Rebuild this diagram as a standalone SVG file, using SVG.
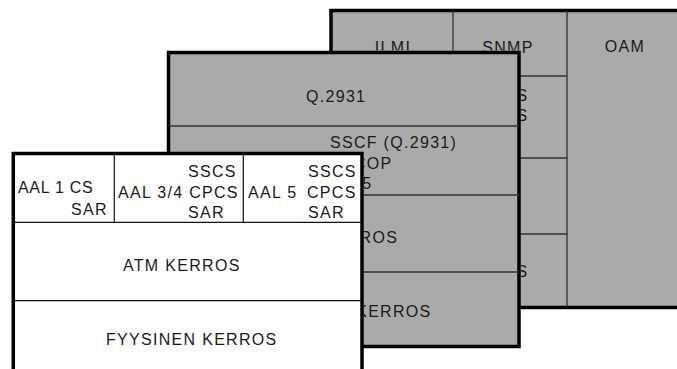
<svg xmlns="http://www.w3.org/2000/svg" width="677" height="369" viewBox="0 0 677 369">
<style>
text{font-family:"Liberation Sans",Arial,sans-serif;font-size:16px;letter-spacing:1.3px;fill:#1a1a1a}
.panel{fill:#aaaaaa;stroke:#000;stroke-width:3.5}
.front{fill:#ffffff;stroke:#000;stroke-width:3.5}
.gl{stroke:#333;stroke-width:1.3;fill:none}
.fl{stroke:#111;stroke-width:1.2;fill:none}
.m{text-anchor:middle}
.t{letter-spacing:0.7px}
</style>
<defs>
<clipPath id="backVis"><path d="M331 8H683V310H521V50.5H331Z"/></clipPath>
<clipPath id="midVis"><path d="M166 50H521V349H364V151.5H166Z"/></clipPath>
</defs>
<g id="management-plane">
<rect class="panel" x="331" y="10.5" width="352" height="297" stroke-width="4"/>
<path class="gl" d="M453 10.5V76M331 76H567M331 158H567M331 234H567M567 10.5V307.5"/>
<g clip-path="url(#backVis)">
<text class="m" x="393" y="52.5">ILMI</text>
<text class="m" x="508" y="52.5">SNMP</text>
<text class="m" x="625" y="52">OAM</text>
<text x="516.5" y="101">S</text>
<text x="516.5" y="121">S</text>
<text x="516.5" y="277">S</text>
</g>
</g>
<g id="control-plane">
<rect class="panel" x="168.5" y="52.5" width="350.5" height="294"/>
<path class="gl" d="M168.5 126H519M168.5 195H519M168.5 272H519"/>
<g clip-path="url(#midVis)">
<text x="306" y="101.5">Q.2931</text>
<text x="330" y="148">SSCF (Q.2931)</text>
<text x="330" y="168.5">SSCOP</text>
<text x="323" y="189">AAL 5</text>
<text x="280.5" y="243">ATM KERROS</text>
<text x="260" y="317">FYYSINEN KERROS</text>
</g>
</g>
<g id="user-plane">
<rect class="front" x="13.3" y="153.5" width="348.7" height="240"/>
<path class="fl" d="M13 222.3H362M13 300.7H362M114.3 153.5V222.3M243.3 153.5V222.3"/>
<text class="t" x="18" y="193">AAL 1 CS</text>
<text x="71" y="215">SAR</text>
<text x="188" y="177">SSCS</text>
<text x="118" y="197.5">AAL 3/4 CPCS</text>
<text x="188" y="218">SAR</text>
<text x="308" y="177">SSCS</text>
<text x="248" y="197.5">AAL 5</text>
<text x="307" y="197.5">CPCS</text>
<text x="308" y="218">SAR</text>
<text x="123" y="271">ATM KERROS</text>
<text x="106" y="345">FYYSINEN KERROS</text>
</g>
</svg>
